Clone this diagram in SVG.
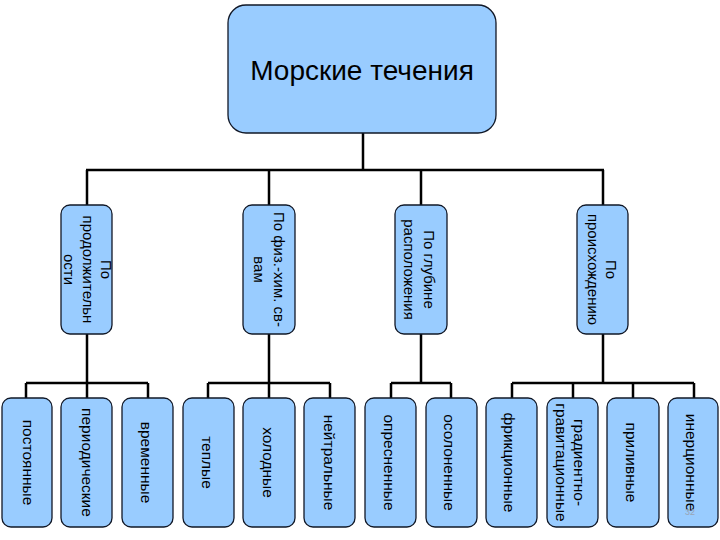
<svg xmlns="http://www.w3.org/2000/svg" width="720" height="540" viewBox="0 0 720 540">
<style>
.box{fill:#99ccff;stroke:#111827;stroke-width:1.3}
.c{fill:none;stroke:#000;stroke-width:2.5}
text{font-family:"Liberation Sans",Arial,sans-serif;fill:#000;text-anchor:middle}
.m{font-size:15px}
.b{font-size:15.5px}
</style>
<rect width="720" height="540" fill="#fff"/>
<g id="connectors" class="c">
<path d="M363 133V170M86 170H604M87 170V205M269 170V205M421 170V205M603 170V205"/>
<path d="M87 334V398M26 383H148M26 383V398M148 383V398"/>
<path d="M269 334V398M208 383H330M208 383V398M330 383V398"/>
<path d="M421 334V383M391 383H451M391 383V398M451 383V398"/>
<path d="M603 334V383M512 383H694M512 383V398M573 383V398M633 383V398M694 383V398"/>
</g>
<g id="root"><rect class="box" x="228" y="5" width="268" height="128" rx="18"/><text x="362" y="80" font-size="28">Морские течения</text></g>
<g id="m1"><rect class="box" x="61" y="205" width="51" height="129" rx="9"/>
<text class="m" transform="translate(101,269.5) rotate(90)">По</text>
<text class="m" transform="translate(82.5,269.5) rotate(90)">продолжительн</text>
<text class="m" transform="translate(63.5,269.5) rotate(90)">ости</text></g>
<g id="m2"><rect class="box" x="243" y="205" width="52" height="129" rx="9"/>
<text class="m" transform="translate(274,269.5) rotate(90)">По физ.-хим. св-</text>
<text class="m" transform="translate(254,269.5) rotate(90)">вам</text></g>
<g id="m3"><rect class="box" x="395" y="205" width="52" height="129" rx="9"/>
<text class="m" transform="translate(424,269.5) rotate(90)">По глубине</text>
<text class="m" transform="translate(404,269.5) rotate(90)">расположения</text></g>
<g id="m4"><rect class="box" x="577" y="205" width="51" height="129" rx="9"/>
<text class="m" transform="translate(606,269.5) rotate(90)">По</text>
<text class="m" transform="translate(588,269.5) rotate(90)">происхождению</text></g>
<g id="b1"><rect class="box" x="2" y="398" width="50" height="129" rx="9"/><text class="b" transform="translate(22.5,462.5) rotate(90)">постоянные</text></g>
<g id="b2"><rect class="box" x="61" y="398" width="51" height="129" rx="9"/><text class="b" transform="translate(82,462.5) rotate(90)">периодические</text></g>
<g id="b3"><rect class="box" x="122" y="398" width="51" height="129" rx="9"/><text class="b" transform="translate(141,462.5) rotate(90)">временные</text></g>
<g id="b4"><rect class="box" x="183" y="398" width="51" height="129" rx="9"/><text class="b" transform="translate(202,462.5) rotate(90)">теплые</text></g>
<g id="b5"><rect class="box" x="243" y="398" width="52" height="129" rx="9"/><text class="b" transform="translate(263,462.5) rotate(90)">холодные</text></g>
<g id="b6"><rect class="box" x="304" y="398" width="51" height="129" rx="9"/><text class="b" transform="translate(324,462.5) rotate(90)">нейтральные</text></g>
<g id="b7"><rect class="box" x="365" y="398" width="51" height="129" rx="9"/><text class="b" transform="translate(384,462.5) rotate(90)">опресненные</text></g>
<g id="b8"><rect class="box" x="426" y="398" width="51" height="129" rx="9"/><text class="b" transform="translate(444,462.5) rotate(90)">осолоненные</text></g>
<g id="b9"><rect class="box" x="486" y="398" width="51" height="129" rx="9"/><text class="b" transform="translate(504,462.5) rotate(90)">фрикционные</text></g>
<g id="b10"><rect class="box" x="547" y="398" width="51" height="129" rx="9"/>
<text class="b" transform="translate(574,462.5) rotate(90)">градиентно-</text>
<text class="b" transform="translate(556,462.5) rotate(90)">гравитационные</text></g>
<g id="b11"><rect class="box" x="607" y="398" width="52" height="129" rx="9"/><text class="b" transform="translate(626,462.5) rotate(90)">приливные</text></g>
<g id="b12"><rect class="box" x="668" y="398" width="50" height="129" rx="9"/><text class="b" transform="translate(686,462.5) rotate(90)">инерционные</text></g>
<text x="690" y="515" font-size="9" style="fill:#9aa4b4">32</text>
</svg>
